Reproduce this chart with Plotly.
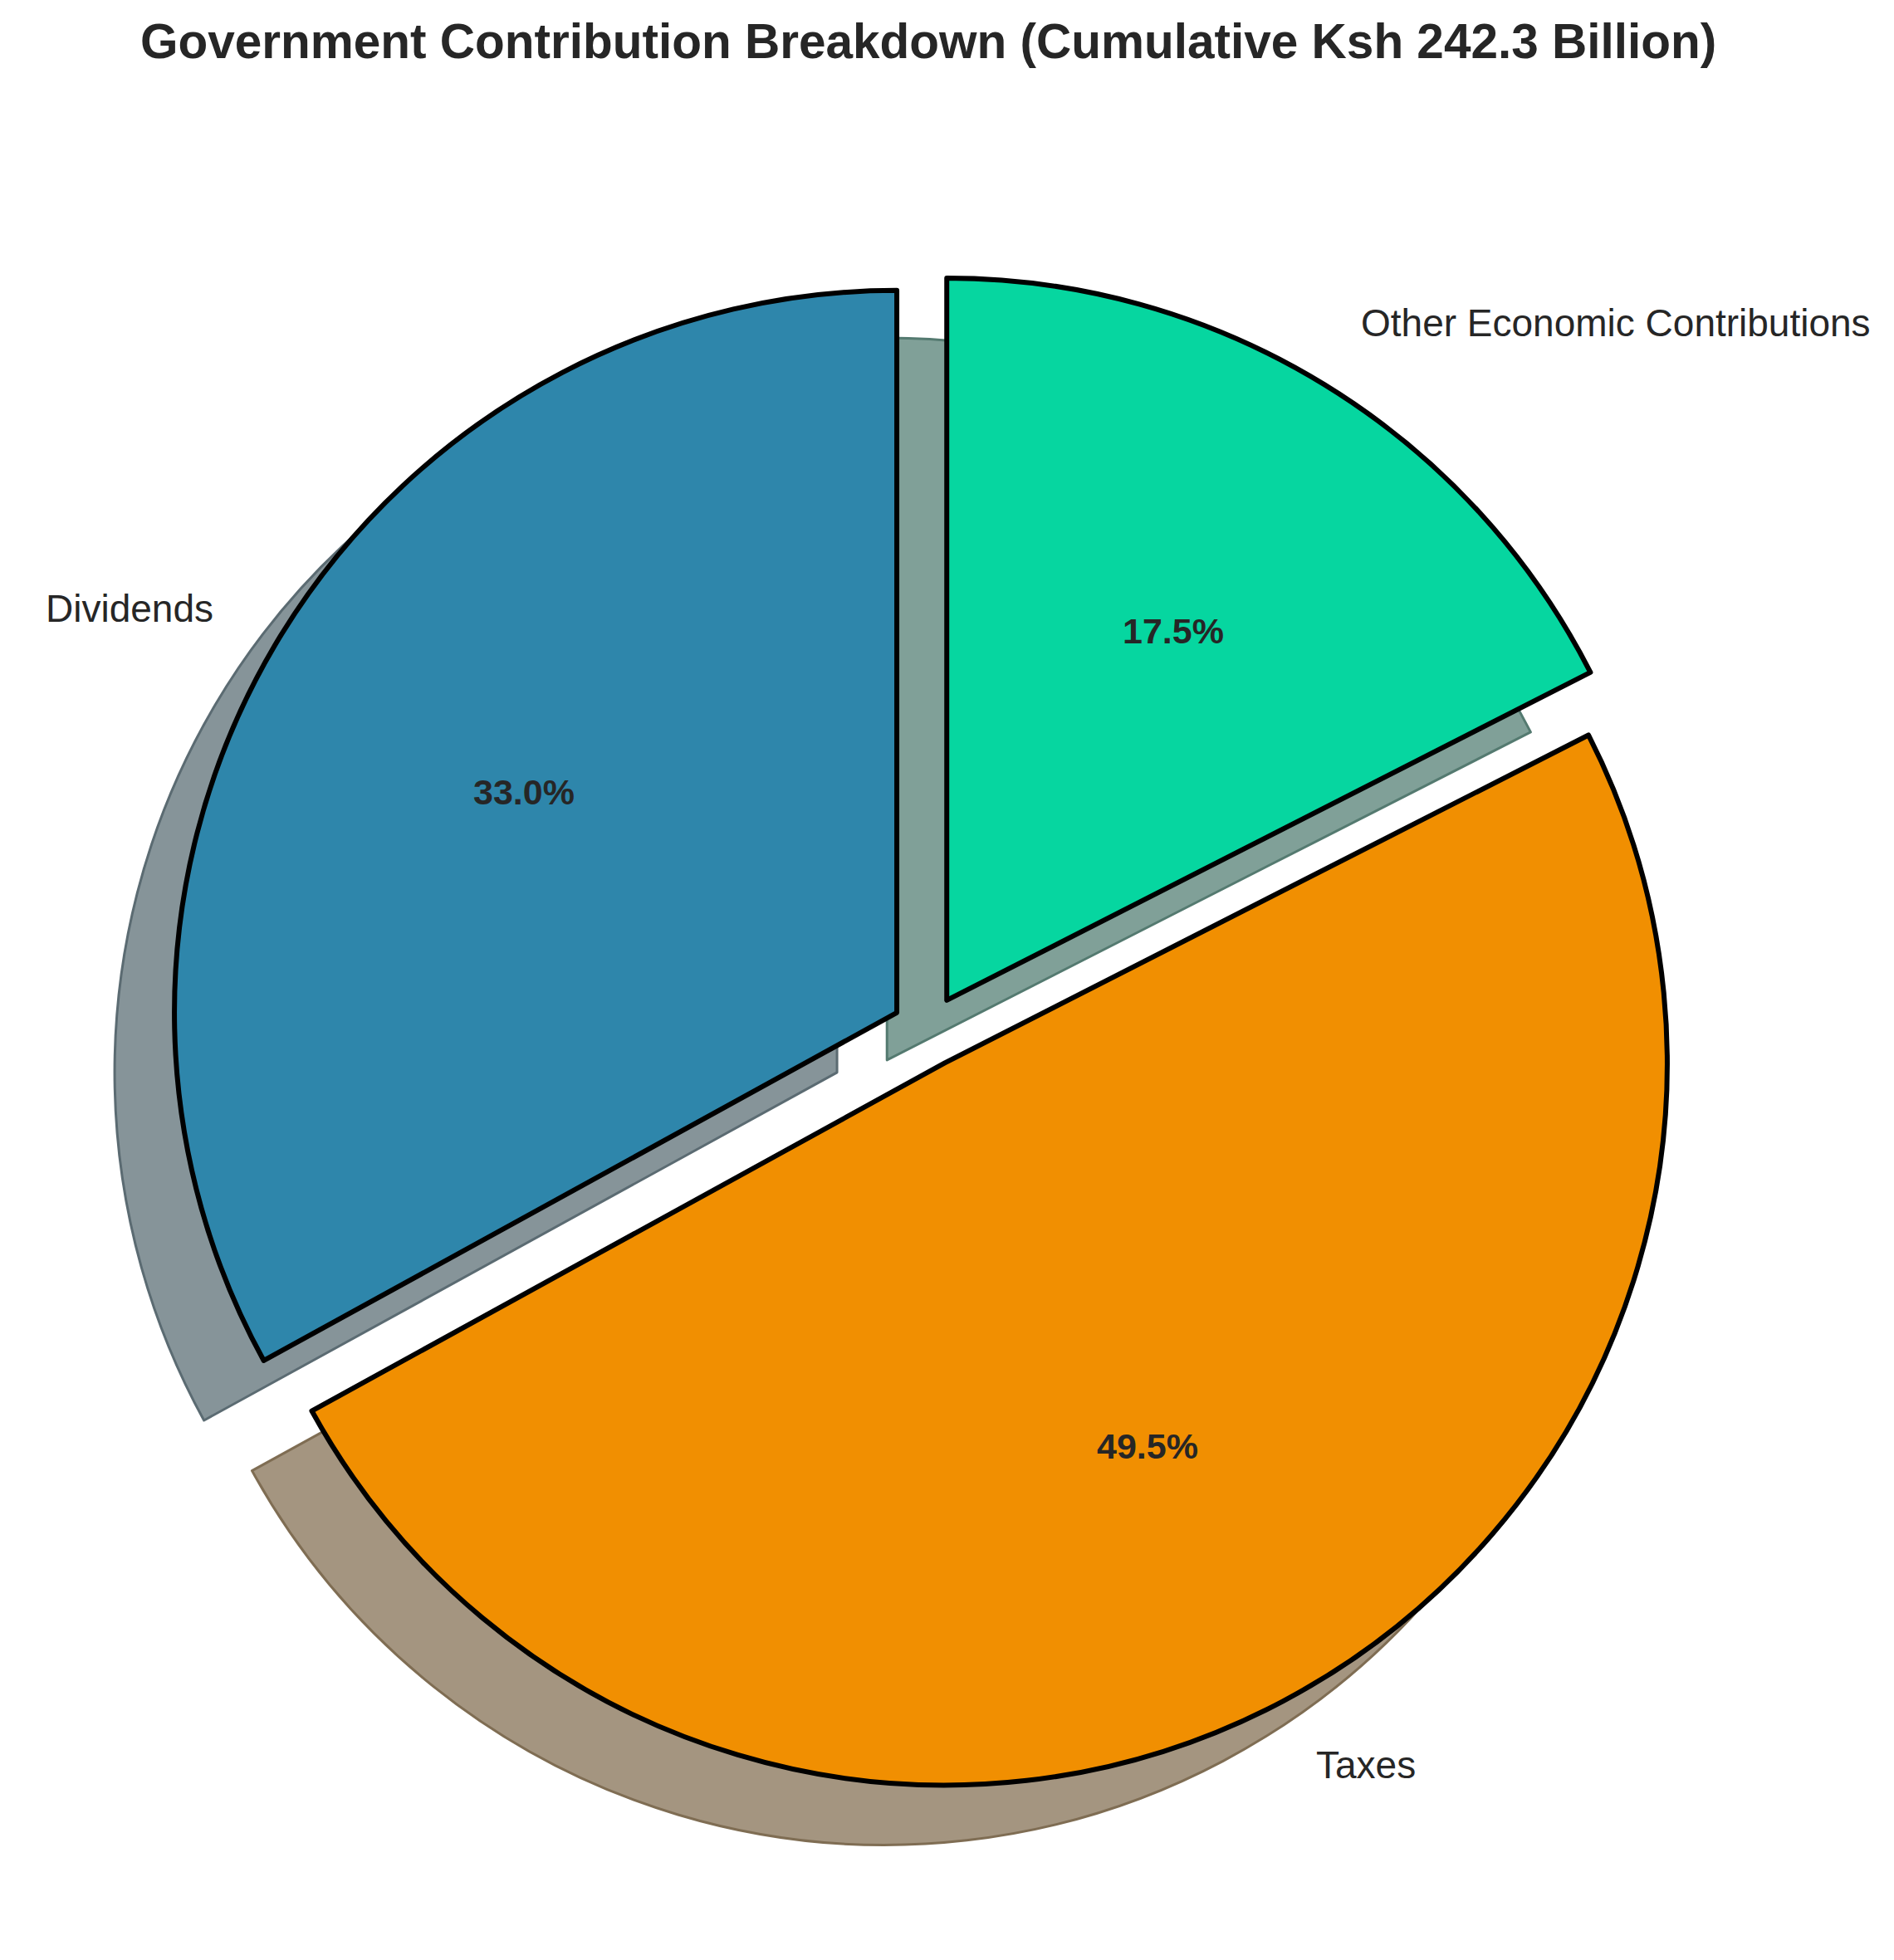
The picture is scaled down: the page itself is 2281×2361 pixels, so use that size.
import math
import plotly.graph_objects as go

# ---- data ----
categories = ["Dividends", "Taxes", "Other Economic Contributions"]
values = [33.0, 49.5, 17.5]
colors = ["#2E86AB", "#F18F01", "#06D6A0"]
pulls = [0.05, 0.05, 0.05]
title_text = "Government Contribution Breakdown (Cumulative Ksh 242.3 Billion)"

# ---- layout constants (pixels) ----
W, H = 2281, 2361
CX, CY = 1117.5, 1242.0       # pie centre (screen px)
R = 870.0                     # pie radius (px)
SHX, SHY = -72.0, 72.0        # shadow offset (screen px)
TEXT = "#262626"
FONT = "Liberation Sans, Arial, sans-serif"
PAD = 3.0                     # compensate annotation box padding (px)


def hex_rgb(h):
    h = h.lstrip("#")
    return tuple(int(h[i:i + 2], 16) for i in (0, 2, 4))


def shade(h, a, b):
    r, g, bb = hex_rgb(h)
    return "rgb(%d,%d,%d)" % (round(a * r + b), round(a * g + b), round(a * bb + b))


shadow_fill = [shade(c, 0.15, 127.5) for c in colors]
shadow_edge = [shade(c, 0.184, 82.5) for c in colors]

maxpull = max(pulls)
half = R * (1 + maxpull)
total = sum(values)
# plotly draws the first slice clockwise of the start; rotate so that the
# first slice runs counter-clockwise from 12 o'clock (matplotlib startangle=90)
rot = -360.0 * values[0] / total


def domain(cx, cy):
    return dict(
        x=[(cx - half) / W, (cx + half) / W],
        y=[(H - cy - half) / H, (H - cy + half) / H],
    )


fig = go.Figure()

# shadow pie
fig.add_trace(go.Pie(
    labels=categories, values=values, sort=False, direction="counterclockwise",
    rotation=rot, pull=pulls, textinfo="none", hoverinfo="skip",
    marker=dict(colors=shadow_fill, line=dict(color=shadow_edge, width=3)),
    domain=domain(CX + SHX, CY + SHY), showlegend=False,
))

# main pie
fig.add_trace(go.Pie(
    labels=categories, values=values, sort=False, direction="counterclockwise",
    rotation=rot, pull=pulls, textinfo="none",
    marker=dict(colors=colors, line=dict(color="black", width=6)),
    domain=domain(CX, CY), showlegend=False,
))

# labels and percentages positioned like matplotlib (labeldistance 1.1, pctdistance 0.6)
annotations = []
start = 90.0
for cat, v, p in zip(categories, values, pulls):
    span = 360.0 * v / total
    mid = math.radians(start + span / 2)
    start += span
    c, s = math.cos(mid), math.sin(mid)
    ox = CX + p * R * c
    oy = CY - p * R * s
    lx, ly = ox + 1.1 * R * c, oy - 1.1 * R * s
    px, py = ox + 0.6 * R * c, oy - 0.6 * R * s
    left = c > 0
    annotations.append(dict(
        text=cat, x=(lx - PAD if left else lx + PAD) / W, y=(H - ly) / H,
        xref="paper", yref="paper",
        xanchor="left" if left else "right", yanchor="middle", showarrow=False,
        font=dict(family=FONT, size=46, color=TEXT),
    ))
    annotations.append(dict(
        text="<b>%.1f%%</b>" % (100.0 * v / total), x=px / W, y=(H - py) / H,
        xref="paper", yref="paper", xanchor="center", yanchor="middle",
        showarrow=False, font=dict(family=FONT, size=43, color=TEXT),
    ))

annotations.append(dict(
    text="<b>%s</b>" % title_text, x=CX / W, y=1 - 50.0 / H, xref="paper", yref="paper",
    xanchor="center", yanchor="middle", showarrow=False,
    font=dict(family=FONT, size=58.5, color=TEXT),
))

fig.update_layout(
    width=W, height=H, autosize=False,
    margin=dict(l=0, r=0, t=0, b=0),
    paper_bgcolor="white", plot_bgcolor="white",
    annotations=annotations, showlegend=False,
)

fig.write_html("out.html")
